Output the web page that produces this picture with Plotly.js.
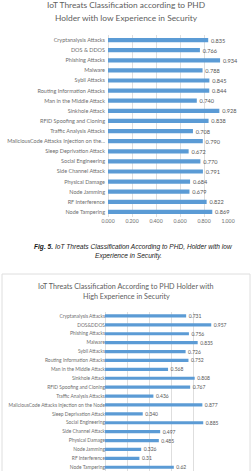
<!DOCTYPE html>
<html>
<head>
<meta charset="utf-8">
<script src="https://cdn.plot.ly/plotly-3.0.1.min.js"></script>
<style>
  html, body { margin: 0; padding: 0; background: #ffffff; }
  #fig { width: 252px; height: 471px; }
</style>
</head>
<body>
<div id="fig"></div>
<script>
// Threat categories, top to bottom
const threatsLow = [
  "Cryptanalysis Attacks", "DOS & DDOS", "Phishing Attacks", "Malware",
  "Sybil Attacks", "Routing Information Attacks", "Man in the Middle Attack",
  "Sinkhole Attack", "RFID Spoofing and Cloning", "Traffic Analysis Attacks",
  "MaliciousCode Attacks Injection on the...", "Sleep Deprivation Attack",
  "Social Engineering", "Side Channel Attack", "Physical Damage",
  "Node Jamming", "RF Interference", "Node Tampering"
];
const threatsHigh = [
  "Cryptanalysis Attacks", "DOS&DDOS", "Phishing Attacks", "Malware",
  "Sybil Attacks", "Routing Information Attacks", "Man in the Middle Attack",
  "Sinkhole Attack", "RFID Spoofing and Cloning", "Traffic Analysis Attacks",
  "MaliciousCode Attacks Injection on the Node", "Sleep Deprivation Attack",
  "Social Engineering", "Side Channel Attack", "Physical Damage",
  "Node Jamming", "RF Interference", "Node Tampering"
];

// Scores as printed beside each bar
const labelsLow = [
  "0.835", "0.766", "0.934", "0.788", "0.845", "0.844", "0.740", "0.928", "0.838",
  "0.708", "0.790", "0.672", "0.770", "0.791", "0.684", "0.679", "0.822", "0.869"
];
const labelsHigh = [
  "0.731", "0.957", "0.756", "0.835", "0.726", "0.752", "0.568", "0.808", "0.767",
  "0.436", "0.877", "0.340", "0.885", "0.497", "0.485", "0.326", "0.31", "0.62"
];
const scoresLow = labelsLow.map(Number);
const scoresHigh = labelsHigh.map(Number);

const xTicks = [0, 0.2, 0.4, 0.6, 0.8, 1.0];
const xTickText = ["0.000", "0.200", "0.400", "0.600", "0.800", "1.000"];

const H = 471, W = 252;
const py = px => 1 - px / H;   // pixel row -> paper y
const pxX = px => px / W;      // pixel column -> paper x

const BAR = "#5b9bd5";
const TXT = "#6e6e6e";
const TITLE = "#606060";
const GRID = "#dedede";
const FONT = "Lato, 'Open Sans', sans-serif";

const traces = [
  {
    type: "bar", orientation: "h",
    x: scoresLow, y: threatsLow,
    xaxis: "x", yaxis: "y",
    marker: { color: BAR },
    width: 0.42,
    text: labelsLow, texttemplate: "\u2002%{text}",
    textposition: "outside", constraintext: "none",
    cliponaxis: false,
    outsidetextfont: { family: FONT, size: 5.6, color: "#555555" },
    hoverinfo: "none"
  },
  {
    type: "bar", orientation: "h",
    x: scoresHigh, y: threatsHigh,
    xaxis: "x2", yaxis: "y2",
    marker: { color: BAR },
    width: 0.36,
    text: labelsHigh, texttemplate: "\u2002%{text}",
    textposition: "outside", constraintext: "none",
    cliponaxis: false,
    outsidetextfont: { family: FONT, size: 5, color: "#555555" },
    hoverinfo: "none"
  }
];

const axisX = (domain, showLabels) => ({
  domain: domain, range: [0, 1], tickvals: xTicks, ticktext: xTickText,
  showticklabels: showLabels, showgrid: true, gridcolor: GRID, gridwidth: 1,
  zeroline: true, zerolinecolor: GRID, showline: false, ticks: "",
  tickfont: { family: FONT, size: 5.2, color: TXT }, fixedrange: true
});

const layout = {
  width: W, height: H,
  margin: { l: 0, r: 0, t: 0, b: 0 },
  paper_bgcolor: "#ffffff", plot_bgcolor: "#ffffff",
  showlegend: false,
  font: { family: FONT, color: TXT },
  xaxis: axisX([pxX(108), pxX(228)], true),
  yaxis: {
    domain: [py(217), py(35)], range: [17.5, -0.5], type: "category",
    showgrid: false, zeroline: false, showline: false, ticks: "",
    ticklabelstandoff: 2,
    tickfont: { family: FONT, size: 5.5, color: TXT }, fixedrange: true
  },
  xaxis2: axisX([pxX(105), pxX(216)], false),
  yaxis2: {
    domain: [0, py(311.5)], range: [17.42, -0.5], type: "category",
    showgrid: false, zeroline: false, showline: false, ticks: "",
    ticklabelstandoff: 2,
    tickfont: { family: FONT, size: 4.9, color: TXT }, fixedrange: true
  },
  bargap: 0.6,
  shapes: [
    {
      type: "rect", xref: "paper", yref: "paper",
      x0: pxX(2), x1: pxX(250), y0: -0.02, y1: py(274),
      line: { color: GRID, width: 1 }, fillcolor: "rgba(0,0,0,0)", layer: "below"
    }
  ],
  annotations: [
    { text: "IoT Threats Classification according to PHD", x: 0.5, y: py(5),
      xref: "paper", yref: "paper", showarrow: false, xanchor: "center", yanchor: "middle",
      font: { family: FONT, size: 8.4, color: TITLE } },
    { text: "Holder with low Experience in Security", x: 0.5, y: py(18),
      xref: "paper", yref: "paper", showarrow: false, xanchor: "center", yanchor: "middle",
      font: { family: FONT, size: 8.4, color: TITLE } },
    { text: "<b><i>Fig. 5.</i></b><i> IoT Threats Classification According to PHD, Holder with low</i>",
      x: pxX(32), y: py(247), xref: "paper", yref: "paper", showarrow: false,
      xanchor: "left", yanchor: "middle",
      font: { family: "'Liberation Sans', Arial, sans-serif", size: 6.6, color: "#1a1a1a" } },
    { text: "<i>Experience in Security.</i>", x: pxX(128), y: py(255.5),
      xref: "paper", yref: "paper", showarrow: false, xanchor: "center", yanchor: "middle",
      font: { family: "'Liberation Sans', Arial, sans-serif", size: 6.6, color: "#1a1a1a" } },
    { text: "IoT Threats Classification According to PHD Holder with", x: 0.5, y: py(286),
      xref: "paper", yref: "paper", showarrow: false, xanchor: "center", yanchor: "middle",
      font: { family: FONT, size: 7.2, color: TITLE } },
    { text: "High Experience in Security", x: 0.5, y: py(296.5),
      xref: "paper", yref: "paper", showarrow: false, xanchor: "center", yanchor: "middle",
      font: { family: FONT, size: 7.2, color: TITLE } }
  ]
};

Plotly.newPlot("fig", traces, layout, { staticPlot: true, displayModeBar: false });
</script>
</body>
</html>
